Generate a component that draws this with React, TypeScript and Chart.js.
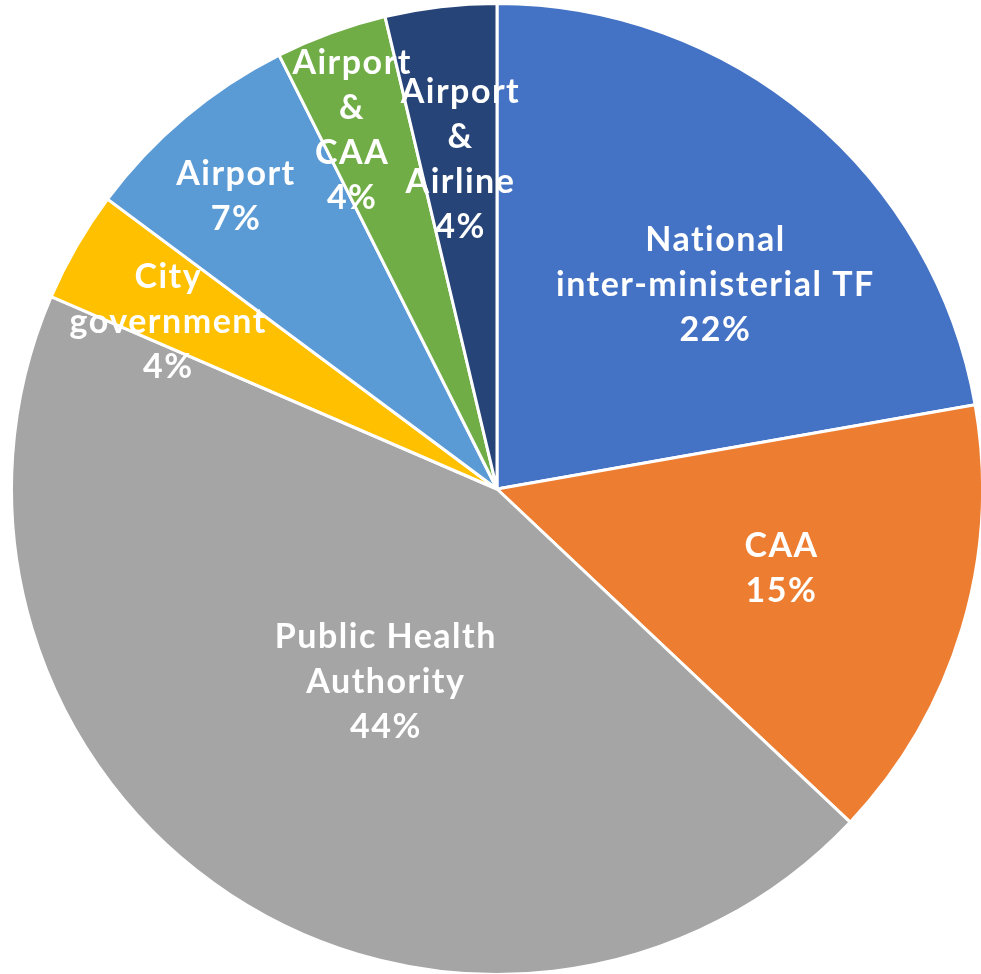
import React, { useEffect, useRef } from "react";
import { Chart, registerables } from "chart.js";

Chart.register(...registerables);

const categories: string[][] = [
  ["National", "inter-ministerial TF"],
  ["CAA"],
  ["Public Health", "Authority"],
  ["City", "government"],
  ["Airport"],
  ["Airport", "&", "CAA"],
  ["Airport", "&", "Airline"],
];
const counts: number[] = [6, 4, 12, 1, 2, 1, 1];
const colors: string[] = ["#4472C4", "#ED7D31", "#A5A5A5", "#FFC000", "#5B9BD5", "#70AD47", "#264478"];

// label placement: [angle offset from slice middle (deg), radius fraction]
const labelPlacement: [number, number][] = [
  [6.8, 0.615],
  [-1.0, 0.607],
  [-3.2, 0.459],
  [-3.1, 0.761],
  [-1.8, 0.809],
  [-2.1, 0.797],
  [0.2, 0.682],
];

const FONT = "bold 34px Lato";
const LINE_H = 45;

const labelPlugin = {
  id: "pieLabels",
  afterDatasetsDraw(chart: any) {
    const ctx = chart.ctx as any;
    const meta = chart.getDatasetMeta(0);
    const data = chart.data.datasets[0].data as number[];
    const total = data.reduce((a, b) => a + b, 0);
    ctx.save();
    ctx.font = FONT;
    ctx.letterSpacing = "1.5px";
    ctx.fillStyle = "#FFFFFF";
    ctx.textAlign = "center";
    ctx.textBaseline = "middle";
    meta.data.forEach((arc: any, i: number) => {
      const p = arc.getProps(["x", "y", "startAngle", "endAngle", "outerRadius"], true);
      const [offDeg, frac] = labelPlacement[i];
      const a = (p.startAngle + p.endAngle) / 2 + (offDeg * Math.PI) / 180;
      const cx = p.x + Math.cos(a) * p.outerRadius * frac;
      const cy = p.y + Math.sin(a) * p.outerRadius * frac;
      const pct = Math.round((data[i] / total) * 100) + "%";
      const lines = [...categories[i], pct];
      const h = (lines.length - 1) * LINE_H;
      lines.forEach((ln, k) => {
        ctx.fillText(ln, cx + 0.75, cy - h / 2 + k * LINE_H);
      });
    });
    ctx.restore();
  },
};

export default function App() {
  const ref = useRef<HTMLCanvasElement | null>(null);
  useEffect(() => {
    document.documentElement.style.overflow = "hidden";
    document.body.style.overflow = "hidden";
    document.body.style.margin = "0";
    const chart = new Chart(ref.current as HTMLCanvasElement, {
      type: "pie",
      data: {
        labels: categories.map((c) => c.join(" ")),
        datasets: [
          {
            data: counts,
            backgroundColor: colors,
            borderColor: "#FFFFFF",
            borderWidth: 3,
          },
        ],
      },
      options: {
        animation: false,
        responsive: false,
        maintainAspectRatio: false,
        layout: { padding: 0 },
        plugins: {
          legend: { display: false },
          tooltip: { enabled: false },
          title: { display: false },
        },
      },
      plugins: [labelPlugin],
    });
    return () => chart.destroy();
  }, []);
  return (
    <div style={{ position: "absolute", left: 10, top: 2, width: 974, height: 974 }}>
      <canvas ref={ref} width={974} height={974} style={{ width: 974, height: 974, display: "block" }} />
    </div>
  );
}
